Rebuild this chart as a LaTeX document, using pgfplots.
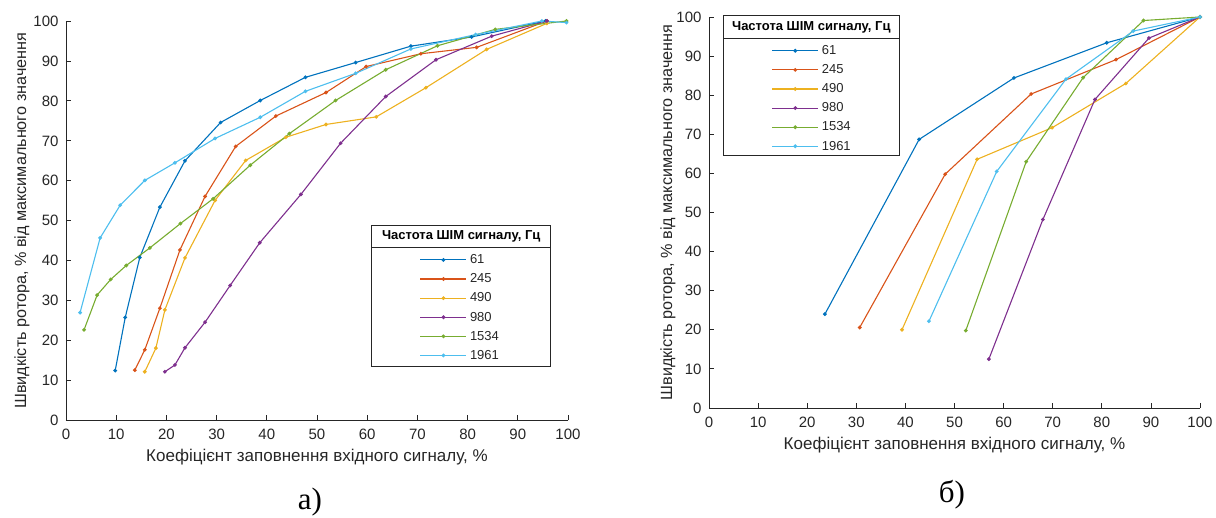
\documentclass[border=0pt]{standalone}
\usepackage{fontspec}
\setmainfont{Liberation Sans}
\newfontfamily\seriffont{Liberation Serif}
\usepackage{pgfplots}
\pgfplotsset{compat=1.18}
\definecolor{axgray}{HTML}{262626}
\definecolor{c1}{HTML}{0072BD}
\definecolor{c2}{HTML}{D95319}
\definecolor{c3}{HTML}{EDB120}
\definecolor{c4}{HTML}{7E2F8E}
\definecolor{c5}{HTML}{77AC30}
\definecolor{c6}{HTML}{4DBEEE}
\pgfplotsset{
  mystyle/.style={
    scale only axis,
    xmin=0, xmax=100, ymin=0, ymax=100,
    xtick={0,10,...,100}, ytick={0,10,...,100},
    axis lines=left,
    axis line style={-, draw=axgray, line width=0.9pt},
    tick style={draw=axgray, line width=0.8pt},
    major tick length=5pt,
    tick align=inside,
    /pgf/number format/assume math mode=true,
    ticklabel style={font=\fontsize{15}{18}\selectfont, text=axgray},
    xticklabel style={yshift=-5pt},
    yticklabel style={xshift=-4pt},
    every axis plot/.append style={line width=1.1pt, mark=*, mark size=1.3pt},
    legend image code/.code={\draw[mark repeat=2, mark phase=2, #1] plot coordinates {(0pt,0pt) (23pt,0pt) (46pt,0pt)}; \path (49pt,0pt);},
    legend style={draw=none, fill=none, inner sep=0pt, outer sep=0pt, anchor=north west,
      font=\fontsize{13}{15}\selectfont, text=axgray,
      nodes={minimum height=19.1pt, inner sep=0pt}},
    legend cell align=left,
  }
}
\begin{document}
\begin{tikzpicture}[x=1pt,y=1pt]
\useasboundingbox (0,0) rectangle (1216,518);
% ---------- a) ----------
\begin{axis}[mystyle, at={(66pt,97.5pt)}, anchor=south west, width=502pt, height=399.5pt,
  xlabel={Коефіцієнт заповнення вхідного сигналу, \%},
  ylabel={Швидкість ротора, \% від максимального значення},
  every axis x label/.style={at={(axis description cs:0.5,0)}, anchor=center, yshift=-36.5pt, font=\fontsize{17}{20}\selectfont, text=axgray},
  every axis y label/.style={at={(axis description cs:0,0.5)}, xshift=-44pt, rotate=90, anchor=center, font=\fontsize{16.2}{19}\selectfont, text=axgray},
  legend style={at={(0.705,0.4258)}},
]
\addplot[c1] coordinates {(9.8,12.5)(11.8,25.8)(14.7,40.8)(18.7,53.4)(23.7,65.0)(30.8,74.6)(38.7,80.1)(47.7,85.9)(57.7,89.6)(68.7,93.7)(80.8,96.0)(95.5,100)};
\addlegendentry{61}
\addplot[c2] coordinates {(13.7,12.6)(15.7,17.7)(18.7,28.1)(22.7,42.7)(27.7,56.1)(33.8,68.6)(41.8,76.2)(51.8,82.1)(59.8,88.6)(70.7,91.8)(81.8,93.4)(95.8,100)};
\addlegendentry{245}
\addplot[c3] coordinates {(15.7,12.2)(17.9,18.1)(19.7,27.7)(23.7,40.7)(29.7,55.1)(35.8,65.1)(43.8,70.9)(51.8,74.1)(61.8,76.0)(71.7,83.3)(83.8,92.9)(95.8,99.4)};
\addlegendentry{490}
\addplot[c4] coordinates {(19.7,12.2)(21.7,13.9)(23.7,18.2)(27.7,24.6)(32.7,33.8)(38.6,44.5)(46.8,56.6)(54.7,69.4)(63.7,81.1)(73.7,90.3)(84.8,96.2)(95.8,100)};
\addlegendentry{980}
\addplot[c5] coordinates {(3.6,22.7)(6.2,31.4)(8.9,35.3)(12.0,38.8)(16.7,43.2)(22.8,49.3)(29.3,55.5)(36.7,63.9)(44.5,71.8)(53.7,80.1)(63.7,87.8)(74.0,93.8)(85.5,97.9)(99.7,100)};
\addlegendentry{1534}
\addplot[c6] coordinates {(2.8,27.0)(6.8,45.7)(10.8,53.9)(15.7,60.1)(21.7,64.5)(29.7,70.6)(38.7,75.9)(47.7,82.4)(57.7,86.9)(68.7,93.0)(81.6,96.6)(94.8,100)(99.7,99.6)};
\addlegendentry{1961}
\end{axis}
\draw[axgray, line width=0.8pt] (371.7,292.3) rectangle (550.7,152);
\draw[axgray, line width=0.8pt] (371.7,270.3) -- (550.7,270.3);
\node[font=\bfseries\fontsize{13}{15}\selectfont, text=black] at (461.2,281.3) {Частота ШІМ сигналу, Гц};
% ---------- б) ----------
\begin{axis}[mystyle, at={(709pt,110pt)}, anchor=south west, width=491pt, height=391pt,
  xlabel={Коефіцієнт заповнення вхідного сигналу, \%},
  ylabel={Швидкість ротора, \% від максимального значення},
  every axis x label/.style={at={(axis description cs:0.5,0)}, anchor=center, yshift=-37pt, font=\fontsize{17}{20}\selectfont, text=axgray},
  every axis y label/.style={at={(axis description cs:0,0.5)}, xshift=-41pt, rotate=90, anchor=center, font=\fontsize{16.2}{19}\selectfont, text=axgray},
  legend style={at={(0.1277,0.938)}},
]
\addplot[c1] coordinates {(23.6,24.0)(42.8,68.7)(62.1,84.4)(81.0,93.4)(100,100)};
\addlegendentry{61}
\addplot[c2] coordinates {(30.7,20.6)(48.1,59.8)(65.6,80.3)(82.9,89.1)(100,100)};
\addlegendentry{245}
\addplot[c3] coordinates {(39.3,20.0)(54.6,63.6)(69.9,71.7)(84.9,83.0)(100,100)};
\addlegendentry{490}
\addplot[c4] coordinates {(57.0,12.5)(68.0,48.2)(78.6,78.9)(89.6,94.6)(100,100)};
\addlegendentry{980}
\addplot[c5] coordinates {(52.3,19.8)(64.6,63.0)(76.2,84.5)(88.5,99.1)(100,100)};
\addlegendentry{1534}
\addplot[c6] coordinates {(44.8,22.2)(58.6,60.5)(72.7,84.1)(86.4,96.4)(100,100)};
\addlegendentry{1961}
\end{axis}
\draw[axgray, line width=0.8pt] (723.3,502.3) rectangle (899.3,363);
\draw[axgray, line width=0.8pt] (723.3,479.7) -- (899.3,479.7);
\node[font=\bfseries\fontsize{13}{15}\selectfont, text=black] at (811.3,491) {Частота ШІМ сигналу, Гц};
% captions
\node[font=\seriffont\fontsize{31}{36}\selectfont, anchor=base] at (310,8.6) {а)};
\node[font=\seriffont\fontsize{31}{36}\selectfont, anchor=base] at (952,15) {б)};
\end{tikzpicture}
\end{document}
